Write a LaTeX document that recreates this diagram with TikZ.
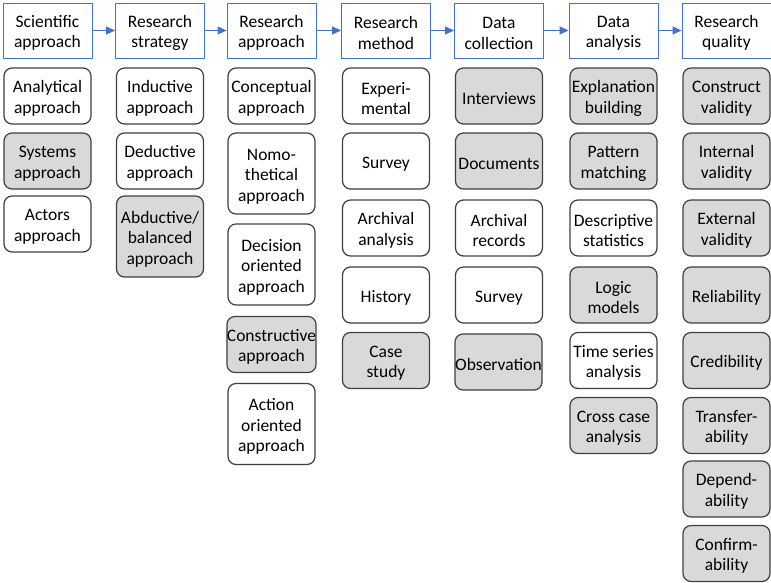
\documentclass[tikz,border=0pt]{standalone}
\usepackage{fontspec}
\setmainfont{Carlito}
\usetikzlibrary{arrows.meta}
\definecolor{headblue}{HTML}{4472C4}
\definecolor{boxline}{HTML}{3F3F3F}
\definecolor{boxgray}{HTML}{D9D9D9}
% invisible strut that sits the first text line a little lower in its box
\newcommand\firstln{\rule{0pt}{17pt}}
\begin{document}
\begin{tikzpicture}[x=1pt,y=-1pt,
  every node/.style={font=\fontsize{17.5}{20.5}\selectfont, align=center, inner sep=0pt},
  head/.style={draw=headblue, line width=0.9pt, fill=white, minimum width=89pt, minimum height=55pt},
  item/.style={draw=boxline, line width=1.2pt, rounded corners=8pt, fill=white, minimum width=87pt, minimum height=56pt},
  tall/.style={item, minimum height=81pt},
  shade/.style={fill=boxgray},
  flow/.style={draw=headblue, line width=1pt, -{Triangle[length=9pt,width=8pt]}}]
\useasboundingbox (0,0) rectangle (771,582);

% stage headers
\node[head] (h1) at (47.5,30.5) {\firstln Scientific\\approach};
\node[head] (h2) at (160,30.5) {\firstln Research\\strategy};
\node[head] (h3) at (271.5,30.5) {\firstln Research\\approach};
\node[head] (h4) at (386,30.5) {\firstln Research\\method};
\node[head] (h5) at (499,30.5) {\firstln Data\\collection};
\node[head] (h6) at (613.5,30.5) {\firstln Data\\analysis};
\node[head] (h7) at (726.5,30.5) {\firstln Research\\quality};
\foreach \a/\b in {h1/h2,h2/h3,h3/h4,h4/h5,h5/h6,h6/h7}
  \draw[flow] (\a.east) -- (\b.west);

% scientific approach
\node[item] (a1) at (47.5,96) {\firstln Analytical\\approach};
\node[item,shade] (a2) at (47.5,161) {\firstln Systems\\approach};
\node[item] (a3) at (47.5,224) {\firstln Actors\\approach};

% research strategy
\node[item] (b1) at (160,96) {\firstln Inductive\\approach};
\node[item] (b2) at (160,161) {\firstln Deductive\\approach};
\node[tall,shade] (b3) at (160,236.5) {\firstln Abductive/\\balanced\\approach};

% research approach
\node[item] (c1) at (271.5,96) {\firstln Conceptual\\approach};
\node[tall] (c2) at (271.5,173.5) {\firstln Nomo-\\thetical\\approach};
\node[tall] (c3) at (271.5,264.5) {\firstln Decision\\oriented\\approach};
\node[item,shade] (c4) at (271.5,344.5) {\firstln Constructive\\approach};
\node[tall] (c5) at (271.5,424) {\firstln Action\\oriented\\approach};

% research method
\node[item] (d1) at (386,96) {\firstln Experi-\\mental};
\node[item] (d2) at (386,161) {\firstln Survey};
\node[item] (d3) at (386,228) {\firstln Archival\\analysis};
\node[item] (d4) at (386,295) {\firstln History};
\node[item,shade] (d5) at (386,360.5) {\firstln Case\\study};

% data collection
\node[item,shade] (e1) at (499,96) {\firstln Interviews};
\node[item,shade] (e2) at (499,161) {\firstln Documents};
\node[item] (e3) at (499,228) {\firstln Archival\\records};
\node[item] (e4) at (499,295) {\firstln Survey};
\node[item,shade] (e5) at (498.5,362) {\firstln Observation};

% data analysis
\node[item,shade] (f1) at (613.5,96) {\firstln Explanation\\building};
\node[item,shade] (f2) at (613.5,161) {\firstln Pattern\\matching};
\node[item] (f3) at (613.5,228) {\firstln Descriptive\\statistics};
\node[item,shade] (f4) at (613.5,295) {\firstln Logic\\models};
\node[item] (f5) at (613.5,360.5) {\firstln Time series\\analysis};
\node[item,shade] (f6) at (613.5,425.5) {\firstln Cross case\\analysis};

% research quality
\node[item,shade] (g1) at (726.5,96) {\firstln Construct\\validity};
\node[item,shade] (g2) at (726.5,161) {\firstln Internal\\validity};
\node[item,shade] (g3) at (726.5,228) {\firstln External\\validity};
\node[item,shade] (g4) at (726.5,295) {\firstln Reliability};
\node[item,shade] (g5) at (726.5,360.5) {\firstln Credibility};
\node[item,shade] (g6) at (726.5,425.5) {\firstln Transfer-\\ability};
\node[item,shade] (g7) at (726.5,489) {\firstln Depend-\\ability};
\node[item,shade] (g8) at (726.5,553.5) {\firstln Confirm-\\ability};
\end{tikzpicture}
\end{document}
